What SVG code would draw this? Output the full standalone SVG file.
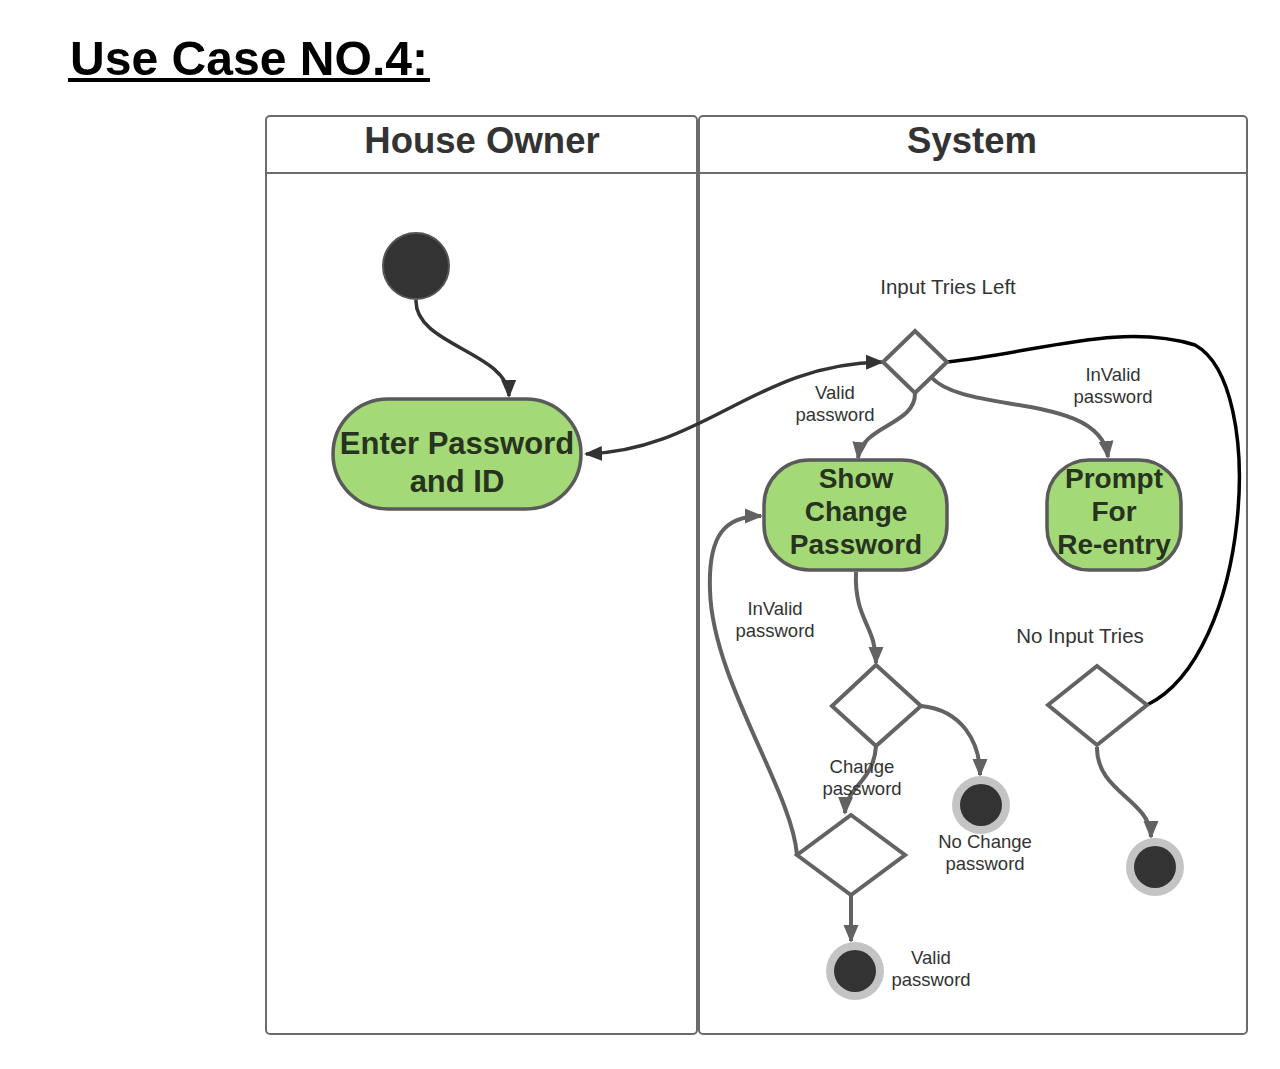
<svg xmlns="http://www.w3.org/2000/svg" width="1280" height="1069" viewBox="0 0 1280 1069">
<style>
.lane{fill:#fff;stroke:#6b6b6b;stroke-width:2}
.hdr{font-family:"Liberation Sans",Arial,sans-serif;font-weight:bold;font-size:36.5px;fill:#333;text-anchor:middle}
.act{fill:#a3d977;stroke:#5a5a5a;stroke-width:3.5}
.atx{font-family:"Liberation Sans",Arial,sans-serif;font-weight:bold;font-size:28px;fill:#28331f;text-anchor:middle}
.atx.l{font-size:31px}
.dia{fill:#fff;stroke:#636363;stroke-width:4;stroke-linejoin:miter}
.lbl{font-family:"Liberation Sans",Arial,sans-serif;font-size:18.5px;fill:#333;text-anchor:middle}
.big{font-size:20.5px}
.g{fill:none;stroke:#626262;stroke-width:4}
.d{fill:none;stroke:#333;stroke-width:3.5}
.k{fill:none;stroke:#000;stroke-width:3.5}
.endo{fill:#c4c4c4}
.endi{fill:#333}
</style>
<defs>
<marker id="ag" viewBox="0 0 18 16" refX="16" refY="8" markerWidth="18" markerHeight="16" markerUnits="userSpaceOnUse" orient="auto"><path d="M0,0.5 L18,8 L0,15.5 Z" fill="#626262"/></marker>
<marker id="ad" viewBox="0 0 18 16" refX="16" refY="8" markerWidth="18" markerHeight="16" markerUnits="userSpaceOnUse" orient="auto-start-reverse"><path d="M0,0.5 L18,8 L0,15.5 Z" fill="#333"/></marker>
</defs>
<rect width="1280" height="1069" fill="#fff"/>
<g id="title">
<text x="70" y="75" font-family="'Liberation Sans',Arial,sans-serif" font-weight="bold" font-size="48" fill="#000" textLength="358" lengthAdjust="spacingAndGlyphs">Use Case NO.4:</text>
<rect x="68" y="78" width="362" height="4" fill="#000"/>
</g>
<g id="lane-house-owner">
<rect class="lane" x="266" y="116" width="431" height="918" rx="4"/>
<line x1="266" y1="173" x2="697" y2="173" stroke="#6b6b6b" stroke-width="2"/>
<text class="hdr" x="482" y="153">House Owner</text>
</g>
<g id="lane-system">
<rect class="lane" x="699" y="116" width="548" height="918" rx="4"/>
<line x1="699" y1="173" x2="1247" y2="173" stroke="#6b6b6b" stroke-width="2"/>
<text class="hdr" x="972" y="153">System</text>
</g>
<g id="connectors">
<path class="d" d="M416,300 C414,345 508,352 509,396" marker-end="url(#ad)"/>
<path class="d" d="M586,454 C705,450 755,364 882,362" marker-start="url(#ad)" marker-end="url(#ad)"/>
<path class="k" d="M947,362 C1040,352 1120,322 1195,345 C1268,385 1250,655 1147,705"/>
<path class="g" d="M915,393 C916,425 862,425 858,458" marker-end="url(#ag)"/>
<path class="g" d="M931,377 C965,415 1100,392 1108,457" marker-end="url(#ag)"/>
<path class="g" d="M856,572 C854,620 876,625 876,663" marker-end="url(#ag)"/>
<path class="g" d="M921,706 C962,710 980,742 980,775" marker-end="url(#ag)"/>
<path class="g" d="M876,746 C874,782 846,786 845,813" marker-end="url(#ag)"/>
<path class="g" d="M851,895 L851,941" marker-end="url(#ag)"/>
<path class="g" d="M797,855 C792,790 712,680 710,590 C708,535 725,516 761,516" marker-end="url(#ag)"/>
<path class="g" d="M1097,747 C1096,792 1151,800 1151,837" marker-end="url(#ag)"/>
</g>
<g id="start">
<circle cx="416" cy="266" r="33" fill="#333" stroke="#555" stroke-width="2"/>
</g>
<g id="enter-password">
<rect class="act" x="333" y="399" width="248" height="110" rx="55"/>
<text class="atx l" x="457" y="454">Enter Password</text>
<text class="atx l" x="457" y="492">and ID</text>
</g>
<g id="decision-tries">
<polygon class="dia" points="915,331 947,362 915,393 883,362"/>
<text class="lbl big" x="948" y="294">Input Tries Left</text>
<text class="lbl" x="835" y="399">Valid</text>
<text class="lbl" x="835" y="421">password</text>
<text class="lbl" x="1113" y="381">InValid</text>
<text class="lbl" x="1113" y="403">password</text>
</g>
<g id="show-change-password">
<rect class="act" x="764" y="460" width="183" height="110" rx="45"/>
<text class="atx" x="856" y="488">Show</text>
<text class="atx" x="856" y="521">Change</text>
<text class="atx" x="856" y="554">Password</text>
</g>
<g id="prompt-reentry">
<rect class="act" x="1047" y="460" width="134" height="110" rx="42"/>
<text class="atx" x="1114" y="488">Prompt</text>
<text class="atx" x="1114" y="521">For</text>
<text class="atx" x="1114" y="554">Re-entry</text>
</g>
<g id="decision-change">
<polygon class="dia" points="876,665 921,706 876,746 832,706"/>
<text class="lbl" x="862" y="773">Change</text>
<text class="lbl" x="862" y="795">password</text>
</g>
<g id="decision-valid">
<polygon class="dia" points="851,815 905,855 851,895 797,855"/>
<text class="lbl" x="775" y="615">InValid</text>
<text class="lbl" x="775" y="637">password</text>
</g>
<g id="decision-no-tries">
<polygon class="dia" points="1097,666 1147,705 1097,745 1048,705"/>
<text class="lbl big" x="1080" y="643">No Input Tries</text>
</g>
<g id="end-no-change">
<circle class="endo" cx="981" cy="805" r="29"/>
<circle class="endi" cx="981" cy="805" r="21"/>
<text class="lbl" x="985" y="848">No Change</text>
<text class="lbl" x="985" y="870">password</text>
</g>
<g id="end-valid">
<circle class="endo" cx="855" cy="971" r="29"/>
<circle class="endi" cx="855" cy="971" r="21"/>
<text class="lbl" x="931" y="964">Valid</text>
<text class="lbl" x="931" y="986">password</text>
</g>
<g id="end-no-tries">
<circle class="endo" cx="1155" cy="867" r="29"/>
<circle class="endi" cx="1155" cy="867" r="21"/>
</g>
</svg>
